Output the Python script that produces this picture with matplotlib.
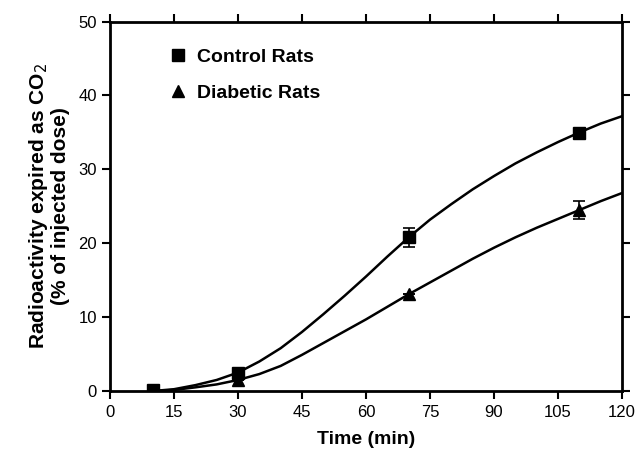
import numpy as np
from matplotlib import pyplot as plt
from matplotlib.lines import Line2D

plt.rcParams['font.family'] = ['Liberation Sans', 'DejaVu Sans']

# measured points
t_pts = [10, 30, 70, 110]
control = [0.1, 2.5, 20.8, 34.9]
control_err = [0, 0, 1.3, 0.4]
diabetic = [0.0, 1.5, 13.1, 24.5]
diabetic_err = [0, 0, 0, 1.2]

# fitted curves
ctrl_fit_t = [10, 15, 20, 25, 30, 35, 40, 45, 50, 55, 60, 65, 70, 75, 80, 85, 90, 95, 100, 105, 110, 115, 120]
ctrl_fit_y = [0.0, 0.25, 0.8, 1.5, 2.5, 4.0, 5.8, 8.0, 10.4, 12.9, 15.5, 18.2, 20.8, 23.2, 25.3, 27.3, 29.1, 30.8, 32.3, 33.7, 35.0, 36.2, 37.2]
diab_fit_t = [10, 15, 20, 25, 30, 35, 40, 45, 50, 55, 60, 65, 70, 75, 80, 85, 90, 95, 100, 105, 110, 115, 120]
diab_fit_y = [0.0, 0.15, 0.5, 0.9, 1.5, 2.3, 3.4, 4.9, 6.5, 8.1, 9.7, 11.4, 13.1, 14.7, 16.3, 17.9, 19.4, 20.8, 22.1, 23.3, 24.5, 25.7, 26.8]

xticks = [0, 15, 30, 45, 60, 75, 90, 105, 120]
yticks = [0, 10, 20, 30, 40, 50]

fig = plt.figure(figsize=(6.38, 4.5), dpi=100)
ax = fig.add_axes([0.1724, 0.131, 0.975 - 0.1724, 0.952 - 0.131])

ax.plot(ctrl_fit_t, ctrl_fit_y, color='black', lw=1.8)
ax.plot(diab_fit_t, diab_fit_y, color='black', lw=1.8)

ax.errorbar(t_pts, diabetic, yerr=diabetic_err, fmt='^', color='black',
            ms=8, capsize=4, elinewidth=1.2, capthick=1.2)
ax.errorbar(t_pts, control, yerr=control_err, fmt='s', color='black',
            ms=8, capsize=4, elinewidth=1.2, capthick=1.2)

ax.set_xlim(0, 120)
ax.set_ylim(0, 50)
ax.set_xticks(xticks)
ax.set_yticks(yticks)
ax.tick_params(direction='out', length=6, width=1.5, labelsize=12,
               top=True, right=True, labeltop=False, labelright=False)
ax.tick_params(axis='x', pad=4)
for s in ax.spines.values():
    s.set_linewidth(2)

ax.set_xlabel('Time (min)', fontsize=14, fontweight='bold', labelpad=8)
ax.set_ylabel('Radioactivity expired as CO$_2$\n(% of injected dose)',
              fontsize=15, fontweight='bold', labelpad=6, linespacing=1.05)

handles = [Line2D([], [], marker='s', ls='none', color='black', ms=8),
           Line2D([], [], marker='^', ls='none', color='black', ms=8)]
ax.legend(handles, ['Control Rats', 'Diabetic Rats'], loc='upper left',
          bbox_to_anchor=(0.08, 0.975), frameon=False,
          prop={'size': 14, 'weight': 'bold'},
          handletextpad=0.45, labelspacing=0.95, handlelength=1.0)

plt.savefig('out.png', dpi=100)
